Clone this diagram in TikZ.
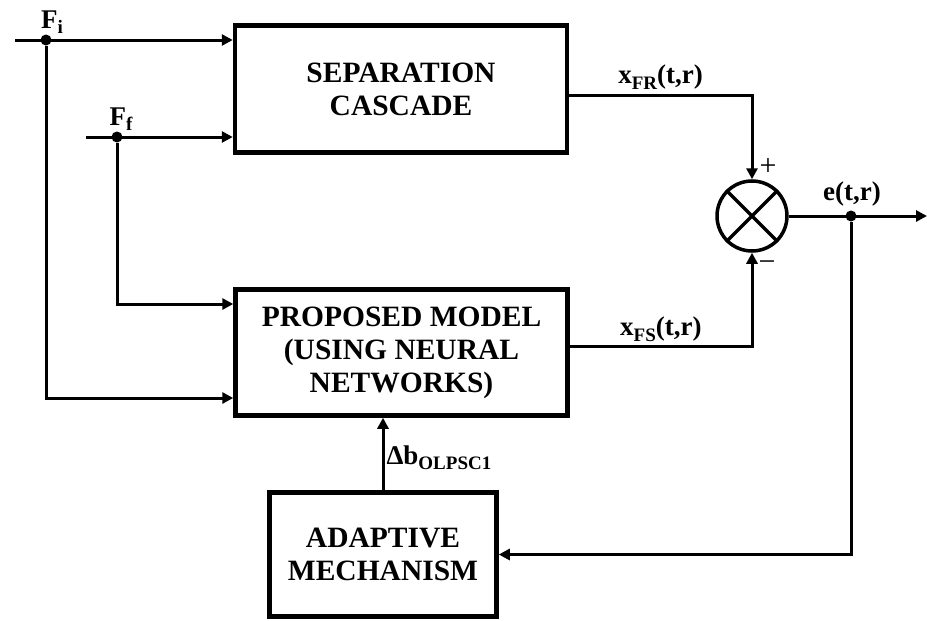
\documentclass[tikz,border=0pt]{standalone}
\usepackage{fontspec}
\setmainfont{Liberation Serif}
\usetikzlibrary{arrows.meta}
\usetikzlibrary{calc}
\usetikzlibrary{positioning}
\newcommand{\lowtxt}[1]{\raisebox{-0.45ex}{\fontsize{19}{19}\selectfont #1}}
\tikzset{block/.style={draw, line width=4.5pt, align=center, inner sep=0pt,
    font=\fontsize{29.5}{33}\selectfont\bfseries}}
\tikzset{conn/.style={line width=3pt, -{Triangle[length=11pt,width=11pt]}}}
\tikzset{dot/.style={circle, fill, inner sep=0pt, minimum size=11pt}}
\tikzset{lbl/.style={inner sep=1pt, font=\fontsize{27}{27}\selectfont\bfseries}}
\tikzset{sign/.style={inner sep=0pt, font=\fontsize{30}{30}\selectfont}}

\begin{document}
\begin{tikzpicture}[x=1pt,y=-1pt]
  \useasboundingbox (0,0) rectangle (927,621);
  % blocks
  \node[block, minimum width=332pt, minimum height=127pt] (sep) at (401,89)
    {SEPARATION\\CASCADE};
  \node[block, minimum width=332pt, minimum height=126pt] (prop) at (401.5,352.5)
    {PROPOSED MODEL\\(USING NEURAL\\NETWORKS)};
  \node[block, minimum width=227pt, minimum height=124pt] (adapt) at (383,554.5)
    {ADAPTIVE\\MECHANISM};
  \node[draw, circle, line width=3.5pt, minimum size=70pt, inner sep=0pt] (sum) at (752,216) {};
  \draw[line width=3.5pt] (sum.north west) -- (sum.south east)
    (sum.north east) -- (sum.south west);
  % branch points and free ends
  \node[dot] (fi) at (46,40) {};
  \node[dot] (ff) at (117,137) {};
  \node[dot] (e) at (851,216) {};
  \coordinate (fi0) at (15,40);
  \coordinate (ff0) at (86,137);
  \coordinate (ffin) at (0,304);
  \coordinate (fiin) at (0,398);
  \coordinate (frout) at (0,95);
  \coordinate (fsout) at (0,346);
  \coordinate (out) at (927,216);
  % connectors
  \draw[conn] (fi0) -- (fi -| sep.west);
  \draw[conn] (ff0) -- (ff -| sep.west);
  \draw[conn] (ff) |- (ffin -| prop.west);
  \draw[conn] (fi) |- (fiin -| prop.west);
  \draw[conn] (frout -| sep.east) -| node[lbl, pos=.25, above=3pt]
    {x\lowtxt{FR}(t,r)} (sum.north);
  \draw[conn] (fsout -| prop.east) -| node[lbl, pos=.25, above=2pt]
    {x\lowtxt{FS}(t,r)} (sum.south);
  \draw[conn] (sum.east) -- (out);
  \draw[conn] (e) |- (adapt.east);
  \draw[conn] (adapt.north) -- node[lbl, right=1pt, pos=.45]
    {Δb\lowtxt{OLPSC1}} (adapt.north |- prop.south);
  % labels
  \node[lbl] at (52,22) {F\lowtxt{i}};
  \node[lbl] at (121,119) {F\lowtxt{f}};
  \node[lbl] at (852,194) {e(t,r)};
  \node[sign] at (768,167) {+};
  \node[sign] at (767,266) {−};
\end{tikzpicture}
\end{document}
